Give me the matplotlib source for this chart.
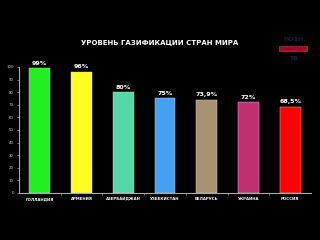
import matplotlib.pyplot as plt

countries = ['ГОЛЛАНДИЯ', 'АРМЕНИЯ', 'АЗЕРБАЙДЖАН', 'УЗБЕКИСТАН',
             'БЕЛАРУСЬ', 'УКРАИНА', 'РОССИЯ']
levels = [99, 96, 80, 75, 73.9, 72, 68.5]
labels = ['99%', '96%', '80%', '75%', '73,9%', '72%', '68,5%']
colors = ['#22ee22', '#ffff22', '#55d8a8', '#44a0f0',
          '#a89070', '#c03070', '#ff0000']
yticks = list(range(0, 101, 10))

font = ['DejaVu Sans']

fig = plt.figure(figsize=(3.2, 2.4), dpi=100, facecolor='black')
ax = fig.add_axes([0.059, 0.196, 0.913, 0.525], facecolor='black')

x = range(len(countries))
ax.bar(x, levels, width=0.5, color=colors, edgecolor='#dddddd', linewidth=0.3)
for i, v in enumerate(levels):
    ax.text(i, v + 2, labels[i], ha='center', va='bottom', color='white',
            fontsize=4.6, fontweight='bold', family=font)

ax.set_xlim(-0.5, 6.5)
ax.set_ylim(0, 100)
ax.set_xticks(list(x))
ax.set_xticklabels(countries, family=font, fontsize=2.8, fontweight='bold',
                   color='white')
ax.set_xticks([i + 0.5 for i in range(len(countries) - 1)], minor=True)
ax.tick_params(axis='x', which='major', length=0, pad=3)
ax.tick_params(axis='x', which='minor', length=1.5, color='#aaaaaa', width=0.5)
ax.set_yticks(yticks)
ax.set_yticklabels([str(t) for t in yticks], family=font, fontsize=2.8,
                   color='#cccccc')
ax.tick_params(axis='y', length=1.5, color='#aaaaaa', width=0.5, pad=2)

for s in ['top', 'right']:
    ax.spines[s].set_visible(False)
for s in ['left', 'bottom']:
    ax.spines[s].set_color('#aaaaaa')
    ax.spines[s].set_linewidth(0.8)

fig.text(0.5, 0.823, 'УРОВЕНЬ ГАЗИФИКАЦИИ СТРАН МИРА', ha='center',
         va='center', color='white', fontsize=5, fontweight='bold',
         family=font)

# faint channel logo, top right
fig.text(0.918, 0.835, 'ПОЗН', ha='center', va='center', color='#14203a',
         fontsize=4.5, fontweight='bold', family=font)
fig.text(0.918, 0.795, 'ПОЗНАВАТЕЛЬНОЕ', ha='center', va='center',
         color='#661122', fontsize=1.8, fontweight='bold', family=font,
         bbox=dict(facecolor='#b01030', edgecolor='none', pad=0.8))
fig.text(0.918, 0.758, 'ТВ', ha='center', va='center', color='#102830',
         fontsize=4.5, fontweight='bold', family=font)

fig.savefig('out.png', dpi=100, facecolor='black')
